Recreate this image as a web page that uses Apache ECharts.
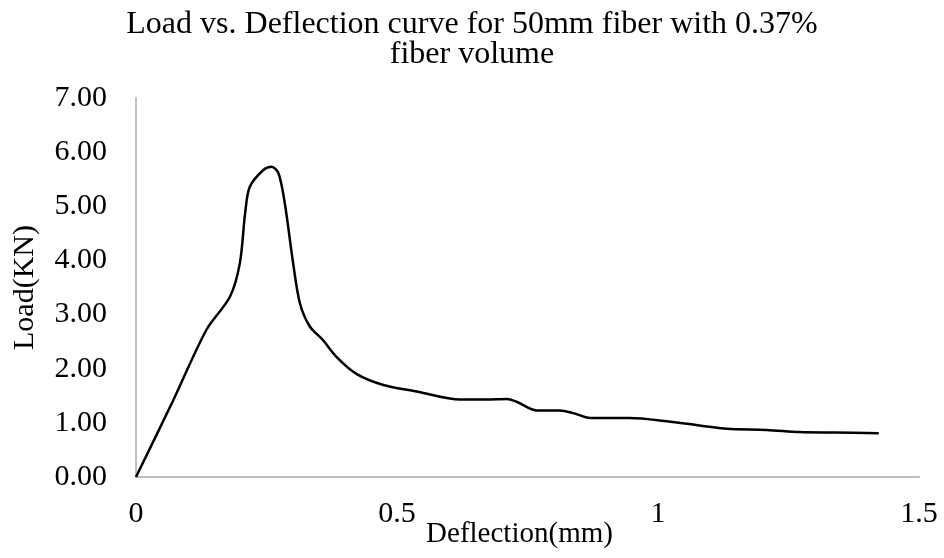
<!DOCTYPE html>
<html>
<head>
<meta charset="utf-8">
<title>Load vs. Deflection</title>
<script src="https://cdn.jsdelivr.net/npm/echarts@6/dist/echarts.min.js"></script>
<style>
  html, body { margin: 0; padding: 0; background: #ffffff; }
  #chart { width: 944px; height: 558px; }
</style>
</head>
<body>
<div id="chart"></div>
<script>
// Flexural test record: 50mm fiber, 0.37% fiber volume
const deflection = [0, 0.07, 0.135, 0.18, 0.199, 0.209, 0.218, 0.244, 0.26, 0.273, 0.285, 0.301, 0.314, 0.333, 0.358, 0.384, 0.423, 0.474, 0.538, 0.621, 0.672, 0.71, 0.729, 0.768, 0.812, 0.838, 0.87, 0.946, 1.017, 1.08, 1.132, 1.208, 1.271, 1.336, 1.423];
const load = [0, 1.39, 2.72, 3.33, 3.95, 4.87, 5.36, 5.67, 5.73, 5.61, 5.06, 3.95, 3.21, 2.78, 2.53, 2.22, 1.90, 1.70, 1.58, 1.43, 1.43, 1.44, 1.39, 1.23, 1.23, 1.18, 1.09, 1.09, 1.03, 0.95, 0.89, 0.87, 0.83, 0.82, 0.81];

const titleLines = ['Load vs. Deflection curve for 50mm fiber with 0.37%', 'fiber volume'];
const xAxisName = 'Deflection(mm)';
const yAxisName = 'Load(KN)';

const serif = '"Liberation Serif", "Times New Roman", serif';
const points = deflection.map((d, i) => [d, load[i]]);

const chart = echarts.init(document.getElementById('chart'), null, { renderer: 'canvas' });
chart.setOption({
  backgroundColor: '#ffffff',
  animation: false,
  title: {
    text: titleLines.join('\n'),
    left: 'center',
    top: 5,
    textStyle: {
      fontFamily: serif,
      fontSize: 32,
      fontWeight: 'normal',
      color: '#000000',
      lineHeight: 30
    }
  },
  // fixed plot rectangle; labels may sit outside it
  grid: { left: 136, right: 25, top: 98, bottom: 81, containLabel: false, outerBoundsMode: 'none' },
  xAxis: {
    type: 'value',
    min: 0,
    max: 1.5,
    interval: 0.5,
    name: xAxisName,
    nameLocation: 'middle',
    nameGap: 43,
    nameMoveOverlap: false,
    nameTextStyle: { fontFamily: serif, fontSize: 29, color: '#000000', padding: [0, 16, 0, 0] },
    axisLine: { show: true, lineStyle: { color: '#bfbfbf', width: 2 } },
    axisTick: { show: false },
    splitLine: { show: false },
    axisLabel: { fontFamily: serif, fontSize: 30, color: '#000000', margin: 22 }
  },
  yAxis: {
    type: 'value',
    min: 0,
    max: 7,
    interval: 1,
    name: yAxisName,
    nameLocation: 'middle',
    nameGap: 96,
    nameMoveOverlap: false,
    nameTextStyle: { fontFamily: serif, fontSize: 30, color: '#000000' },
    axisLine: { show: true, lineStyle: { color: '#bfbfbf', width: 2 } },
    axisTick: { show: false },
    splitLine: { show: false },
    axisLabel: {
      fontFamily: serif,
      fontSize: 30,
      color: '#000000',
      margin: 29,
      formatter: v => v.toFixed(2)
    }
  },
  series: [{
    type: 'line',
    data: points,
    smooth: 0.3,
    symbol: 'none',
    lineStyle: { color: '#000000', width: 2.5 }
  }]
});
</script>
</body>
</html>
